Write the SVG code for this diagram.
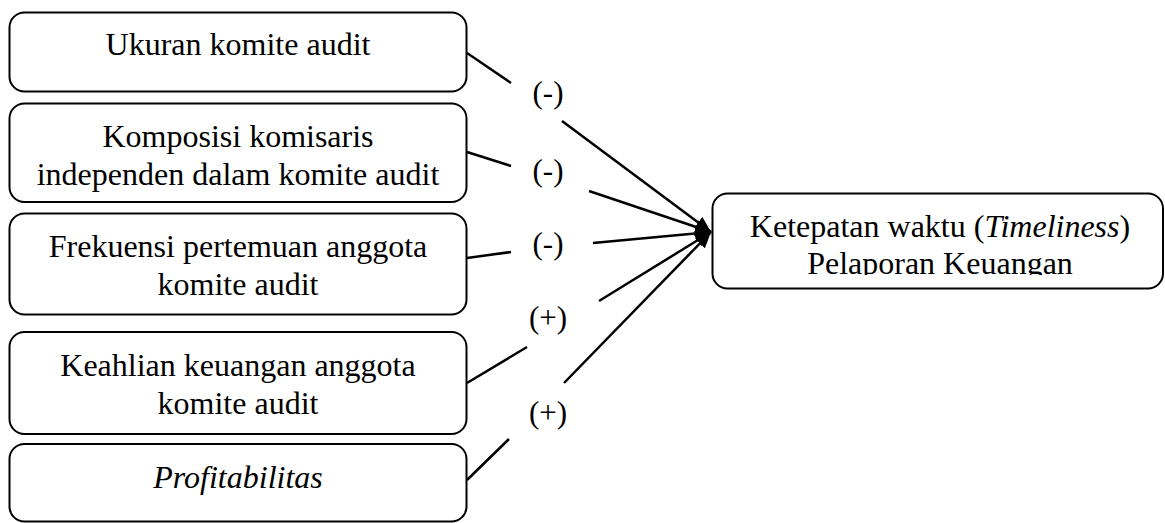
<svg xmlns="http://www.w3.org/2000/svg" width="1165" height="523" viewBox="0 0 1165 523">
<style>
.box{fill:#fff;stroke:#000;stroke-width:2}
.t{font-family:'Liberation Serif','Times New Roman',serif;font-size:32px;fill:#000;text-anchor:middle}
.lbl{font-family:'Liberation Serif','Times New Roman',serif;font-size:31px;fill:#000;text-anchor:middle}
.ln{stroke:#000;stroke-width:2.5;fill:none}
</style>
<defs>
<marker id="ah" markerUnits="userSpaceOnUse" markerWidth="18" markerHeight="14" refX="16" refY="7" orient="auto">
<path d="M0,0 L16,7 L0,14 z" fill="#000"/>
</marker>
<clipPath id="clipT"><rect x="700" y="180" width="465" height="95"/></clipPath>
</defs>
<rect width="1165" height="523" fill="#fff"/>
<g id="connectors">
<line class="ln" x1="467" y1="53" x2="511" y2="83"/>
<line class="ln" x1="562" y1="121" x2="711" y2="232" marker-end="url(#ah)"/>
<line class="ln" x1="467" y1="152" x2="511" y2="166"/>
<line class="ln" x1="589" y1="191" x2="711" y2="232" marker-end="url(#ah)"/>
<line class="ln" x1="467" y1="258" x2="511" y2="252"/>
<line class="ln" x1="593" y1="243" x2="711" y2="232" marker-end="url(#ah)"/>
<line class="ln" x1="467" y1="383" x2="527" y2="347"/>
<line class="ln" x1="599" y1="301" x2="711" y2="232" marker-end="url(#ah)"/>
<line class="ln" x1="467" y1="480" x2="509" y2="439"/>
<line class="ln" x1="564" y1="383" x2="711" y2="232" marker-end="url(#ah)"/>
<text class="lbl" x="548" y="103">(-)</text>
<text class="lbl" x="548" y="181">(-)</text>
<text class="lbl" x="548" y="254">(-)</text>
<text class="lbl" x="548" y="328">(+)</text>
<text class="lbl" x="548" y="423">(+)</text>
</g>
<g id="n1">
<rect class="box" x="9.5" y="12.5" width="457" height="79" rx="15"/>
<text class="t" x="238" y="55">Ukuran komite audit</text>
</g>
<g id="n2">
<rect class="box" x="9.5" y="103.5" width="457" height="98.5" rx="15"/>
<text class="t" x="238" y="147">Komposisi komisaris</text>
<text class="t" x="238" y="185">independen dalam komite audit</text>
</g>
<g id="n3">
<rect class="box" x="9.5" y="213.5" width="457" height="101" rx="15"/>
<text class="t" x="238" y="257">Frekuensi pertemuan anggota</text>
<text class="t" x="238" y="295">komite audit</text>
</g>
<g id="n4">
<rect class="box" x="9.5" y="332" width="457" height="102" rx="15"/>
<text class="t" x="238" y="376">Keahlian keuangan anggota</text>
<text class="t" x="238" y="414">komite audit</text>
</g>
<g id="n5">
<rect class="box" x="9.5" y="444" width="457" height="77.5" rx="15"/>
<text class="t" x="238" y="488" font-style="italic">Profitabilitas</text>
</g>
<g id="target">
<rect class="box" x="712.5" y="193.5" width="450.5" height="95" rx="15"/>
<text class="t" x="940" y="237">Ketepatan waktu (<tspan font-style="italic">Timeliness</tspan>)</text>
<text class="t" x="940" y="273.5" clip-path="url(#clipT)">Pelaporan Keuangan</text>
</g>
</svg>
